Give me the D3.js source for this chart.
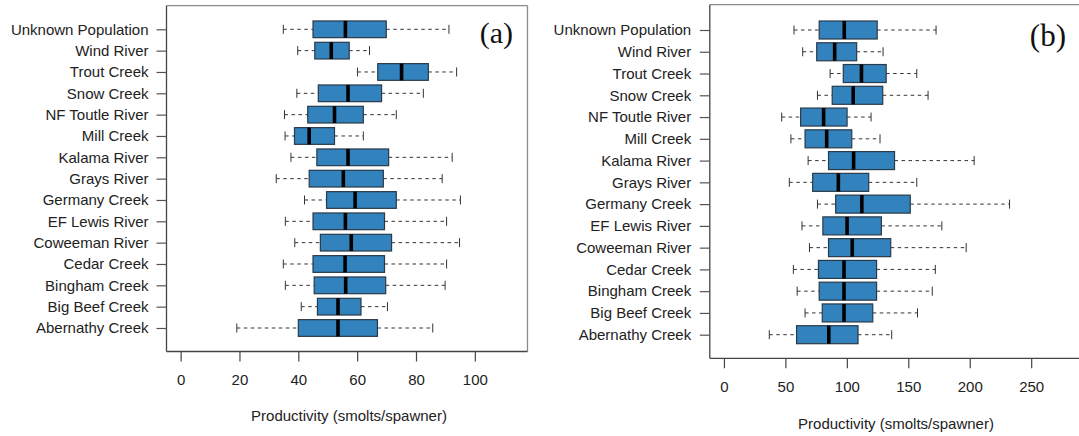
<!DOCTYPE html>
<html>
<head>
<meta charset="utf-8">
<script src="https://cdn.jsdelivr.net/npm/d3@7"></script>
<style>
  body { margin: 0; background: #fff; }
  svg { display: block; font-family: "Liberation Sans", Arial, sans-serif; }
</style>
</head>
<body>
<div class="vis-boxplot"></div>
<script>
// categories, top to bottom as drawn
const categories = ["Unknown Population", "Wind River", "Trout Creek", "Snow Creek", "NF Toutle River",
  "Mill Creek", "Kalama River", "Grays River", "Germany Creek", "EF Lewis River", "Coweeman River",
  "Cedar Creek", "Bingham Creek", "Big Beef Creek", "Abernathy Creek"];

// panel (a) five-number summaries
const aLow  = [34.9, 39.8, 60.1, 39.5, 35.3, 35.5, 37.5, 32.5, 42.1, 35.6, 38.8, 34.9, 35.6, 41.0, 19.1];
const aQ1   = [45.0, 45.6, 67.0, 46.8, 43.2, 38.7, 46.3, 43.7, 49.6, 45.0, 47.5, 45.0, 45.4, 46.5, 40.0];
const aMed  = [56.0, 51.2, 75.1, 56.9, 52.3, 43.7, 56.9, 55.3, 59.3, 56.0, 58.0, 55.9, 56.1, 53.5, 53.5];
const aQ3   = [69.9, 57.3, 84.2, 68.3, 62.1, 52.3, 70.7, 68.9, 73.3, 69.3, 71.7, 69.3, 69.7, 61.3, 66.9];
const aHigh = [91.2, 64.2, 93.8, 82.5, 73.3, 62.1, 92.3, 88.9, 95.1, 90.4, 94.8, 90.4, 89.9, 70.3, 85.7];
const aTicks = [0, 20, 40, 60, 80, 100];

// panel (b) five-number summaries
const bLow  = [57.0, 64.1, 86.4, 76.1, 47.0, 54.5, 68.5, 53.2, 76.1, 63.5, 69.6, 56.5, 59.6, 66.0, 36.9];
const bQ1   = [77.5, 75.5, 97.1, 88.1, 62.4, 66.0, 85.1, 72.2, 90.9, 80.5, 85.1, 76.9, 77.5, 80.0, 59.1];
const bMed  = [97.9, 90.1, 111.9, 105.2, 81.1, 83.6, 105.5, 93.1, 112.2, 100.2, 104.4, 97.7, 97.7, 97.7, 85.3];
const bQ3   = [124.7, 108.0, 132.0, 129.2, 100.2, 104.0, 138.8, 117.8, 151.6, 128.1, 135.7, 124.2, 124.2, 121.1, 109.1];
const bHigh = [172.6, 129.5, 156.9, 166.1, 119.7, 127.0, 203.6, 156.9, 232.4, 177.3, 197.1, 172.0, 169.5, 157.5, 136.5];
const bTicks = [0, 50, 100, 150, 200, 250];

const xTitle = "Productivity (smolts/spawner)";

const svg = d3.select('.vis-boxplot').append('svg')
  .attr('width', 1079)
  .attr('height', 436);

const drawPanel = (p) => {
  const rows = categories.map((c, i) => ({
    name: c, low: p.low[i], q1: p.q1[i], med: p.med[i], q3: p.q3[i], high: p.high[i]
  }));

  let x = d3.scaleLinear().domain(p.xDomain).range([p.left, p.right]);
  let y = d3.scalePoint().domain(categories).range([p.firstRow, p.lastRow]);
  const bh = p.boxH;

  const g = svg.append('g');

  // whiskers (dashed) and staples
  g.selectAll('.whisk').data(rows).enter().append('g')
    .each(function(d) {
      const s = d3.select(this);
      [[d.low, d.q1], [d.q3, d.high]].forEach(([a, b]) => {
        s.append('line')
          .attr('x1', x(a)).attr('x2', x(b))
          .attr('y1', y(d.name)).attr('y2', y(d.name))
          .attr('stroke', '#333').attr('stroke-width', 1)
          .attr('stroke-dasharray', '3.5,3.5');
      });
      [d.low, d.high].forEach(v => {
        s.append('line')
          .attr('x1', x(v)).attr('x2', x(v))
          .attr('y1', y(d.name) - p.staple / 2).attr('y2', y(d.name) + p.staple / 2)
          .attr('stroke', '#333').attr('stroke-width', 1);
      });
    });

  // boxes
  g.selectAll('.box').data(rows).enter().append('rect')
    .attr('x', d => x(d.q1))
    .attr('width', d => x(d.q3) - x(d.q1))
    .attr('y', d => y(d.name) - bh / 2)
    .attr('height', bh)
    .attr('fill', '#3182bd')
    .attr('stroke', '#2b3a48')
    .attr('stroke-width', 1.2);

  // medians
  g.selectAll('.med').data(rows).enter().append('line')
    .attr('x1', d => x(d.med)).attr('x2', d => x(d.med))
    .attr('y1', d => y(d.name) - bh / 2).attr('y2', d => y(d.name) + bh / 2)
    .attr('stroke', '#000').attr('stroke-width', 3.6);

  // frame
  g.append('line').attr('x1', p.left).attr('x2', p.right).attr('y1', p.top).attr('y2', p.top)
    .attr('stroke', '#8a8a8a').attr('stroke-width', 1.3);
  g.append('line').attr('x1', p.right).attr('x2', p.right).attr('y1', p.top).attr('y2', p.bottom)
    .attr('stroke', '#8a8a8a').attr('stroke-width', 1.3);
  g.append('line').attr('x1', p.left).attr('x2', p.left).attr('y1', p.top).attr('y2', p.bottom)
    .attr('stroke', '#444').attr('stroke-width', 1.3);
  g.append('line').attr('x1', p.left).attr('x2', p.right).attr('y1', p.bottom).attr('y2', p.bottom)
    .attr('stroke', '#444').attr('stroke-width', 1.3);

  // x axis
  const xa = g.append('g')
    .attr('transform', 'translate(0,' + p.bottom + ')')
    .call(d3.axisBottom(x).tickValues(p.ticks).tickSize(10).tickPadding(p.xPad));
  xa.select('.domain').remove();
  xa.selectAll('line').attr('stroke', '#444').attr('stroke-width', 1.2);
  xa.selectAll('text').attr('font-size', 15).attr('fill', '#222')
    .attr('font-family', '"Liberation Sans", Arial, sans-serif');

  // y axis
  const ya = g.append('g')
    .attr('transform', 'translate(' + p.left + ',0)')
    .call(d3.axisLeft(y).tickSize(10).tickPadding(p.yPad));
  ya.select('.domain').remove();
  ya.selectAll('line').attr('stroke', '#555').attr('stroke-width', 1.2);
  ya.selectAll('text').attr('font-size', 15).attr('fill', '#222')
    .attr('font-family', '"Liberation Sans", Arial, sans-serif');

  // axis title
  g.append('text')
    .attr('x', p.titleX).attr('y', p.titleY)
    .attr('text-anchor', 'middle')
    .attr('font-size', 15).attr('fill', '#222')
    .text(xTitle);

  // panel tag
  g.append('text')
    .attr('x', p.tagX).attr('y', p.tagY)
    .attr('text-anchor', 'end')
    .attr('font-family', '"Liberation Serif", "Times New Roman", serif')
    .attr('font-size', p.tagSize).attr('fill', '#111')
    .text(p.tag);
};

drawPanel({
  low: aLow, q1: aQ1, med: aMed, q3: aQ3, high: aHigh, ticks: aTicks,
  xDomain: [-4.8, 117.9], left: 166.5, right: 527.5, top: 5.7, bottom: 351.5,
  firstRow: 29.3, lastRow: 328, boxH: 16.7, staple: 9,
  xPad: 12.5, yPad: 8, titleX: 349, titleY: 420.5,
  tag: '(a)', tagX: 513, tagY: 43, tagSize: 30
});

drawPanel({
  low: bLow, q1: bQ1, med: bMed, q3: bQ3, high: bHigh, ticks: bTicks,
  xDomain: [-11.5, 298.5], left: 709.8, right: 1090.8, top: 4.7, bottom: 358.3,
  firstRow: 30, lastRow: 334.7, boxH: 18, staple: 9,
  xPad: 13.1, yPad: 8.6, titleX: 896, titleY: 428.8,
  tag: '(b)', tagX: 1066, tagY: 46, tagSize: 31
});
</script>
</body>
</html>
